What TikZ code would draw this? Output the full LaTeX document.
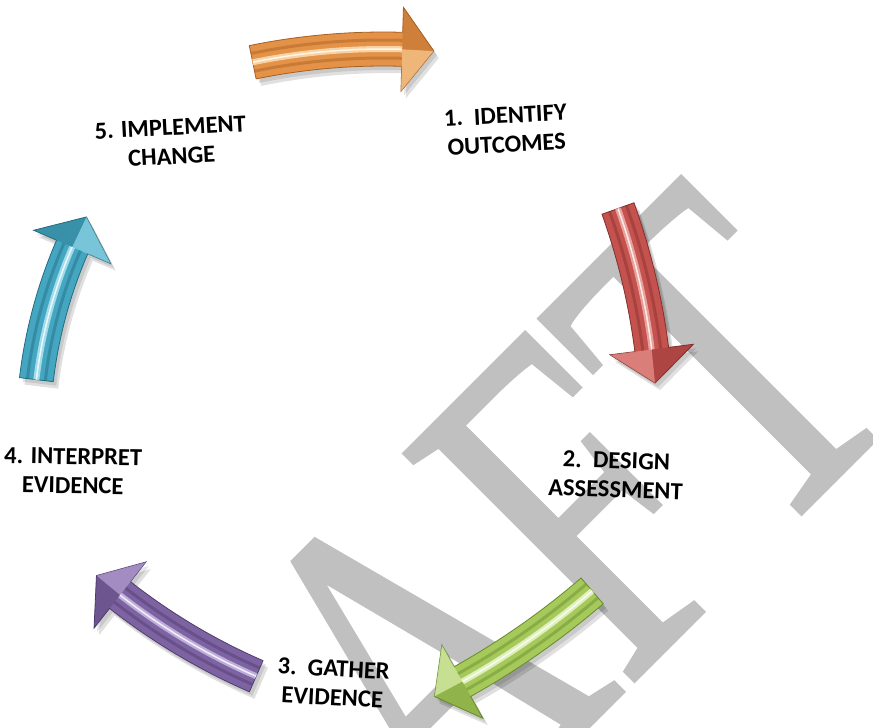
\documentclass[tikz,border=0pt]{standalone}
\usepackage{fontspec}
\newfontfamily\labelfont{Carlito}
\newfontfamily\markfont[Kerning=Off,FakeBold=0.8]{Liberation Serif}
\definecolor{orangeA}{HTML}{E39248}
\definecolor{orangeB}{HTML}{A85F22}
\definecolor{orangeC}{HTML}{FFE2B8}
\definecolor{redA}{HTML}{C4524E}
\definecolor{redB}{HTML}{842F2C}
\definecolor{redC}{HTML}{F4B4AE}
\definecolor{greenA}{HTML}{A6C95C}
\definecolor{greenB}{HTML}{678A2A}
\definecolor{greenC}{HTML}{EEFAD2}
\definecolor{purpleA}{HTML}{7E63A2}
\definecolor{purpleB}{HTML}{4F3C6E}
\definecolor{purpleC}{HTML}{CFC0E8}
\definecolor{blueA}{HTML}{44A6C0}
\definecolor{blueB}{HTML}{226C80}
\definecolor{blueC}{HTML}{B8EAF6}
\definecolor{markgray}{RGB}{192,192,192}
\tikzset{
  steplabel/.style={font=\labelfont\bfseries\fontsize{24.5}{29}\selectfont, align=center, inner sep=0pt},
  watermark/.style={font=\markfont\fontsize{350}{350}\selectfont, text=markgray, inner sep=0pt}
}
\newcommand{\bentarrow}[6]{%
  \pgfmathsetmacro{\rin}{#2-17}\pgfmathsetmacro{\rout}{#2+17}%
  \pgfmathsetmacro{\hin}{#2-42}\pgfmathsetmacro{\hout}{#2+42}%
  \pgfmathsetmacro{\ra}{#2-9}\pgfmathsetmacro{\rb}{#2+9}%
  \def\bentpath{(#3:\rin) arc[start angle=#3, end angle=#4, radius=\rin] -- (#4:\hin) -- (#5:#2) -- (#4:\hout) -- (#4:\rout) arc[start angle=#4, end angle=#3, radius=\rout] -- cycle}%
  \begin{scope}[shift={(#1)}]
    \fill[black, opacity=.12, xshift=5, yshift=-7] \bentpath;
    \fill[black, opacity=.1, xshift=3, yshift=-4] \bentpath;
    \fill[#6A, draw=#6B, line width=.8] \bentpath;
    \draw[#6B, line width=3, opacity=.45] (#3:\ra) arc[start angle=#3, end angle=#4, radius=\ra];
    \draw[#6B, line width=3, opacity=.45] (#3:\rb) arc[start angle=#3, end angle=#4, radius=\rb];
    \draw[#6C, line width=6, opacity=.8] (#3:#2) arc[start angle=#3, end angle=#4, radius=#2];
    \draw[white, line width=1.5, opacity=.8] (#3:#2) arc[start angle=#3, end angle=#4, radius=#2];
    \fill[#6C, opacity=.45] (#4:\hin) -- (#5:#2) -- (#4:#2) -- cycle;
    \fill[#6B, opacity=.35] (#4:\hout) -- (#5:#2) -- (#4:#2) -- cycle;
  \end{scope}}
\begin{document}
\begin{tikzpicture}[x=1pt,y=1pt]
\useasboundingbox (0,0) rectangle (873,728);
\fill[white] (0,0) rectangle (873,728);
\begin{scope}
\clip (0,0) rectangle (873,728);
\node[watermark, anchor=base west, rotate=45, yscale=1.41] (draft) at (60.5,-526.5) {DR\kern60pt AFT};
\end{scope}
\bentarrow{383,31}{648}{101.6}{88.3}{85.5}{orange}
\bentarrow{-9,295}{666}{19.7}{7.2}{4.3}{red}
\bentarrow{77,736}{790}{-49.3}{-60.8}{-63.1}{green}
\bentarrow{505,624}{624}{-113.5}{-128.1}{-130.9}{purple}
\bentarrow{509,292}{476}{173.2}{156.6}{152.6}{blue}
\node[steplabel, rotate=3] (identify) at (506,598) {1.\ \ IDENTIFY\\OUTCOMES};
\node[steplabel, rotate=-2] (design) at (616,253) {2.\ \ DESIGN\\ASSESSMENT};
\node[steplabel, rotate=-3] (gather) at (333,45) {3.\ \ GATHER\\EVIDENCE};
\node[steplabel, rotate=-1] (interpret) at (73,257) {4. INTERPRET\\EVIDENCE};
\node[steplabel, rotate=3] (implement) at (171,586) {5. IMPLEMENT\\CHANGE};
\end{tikzpicture}
\end{document}
